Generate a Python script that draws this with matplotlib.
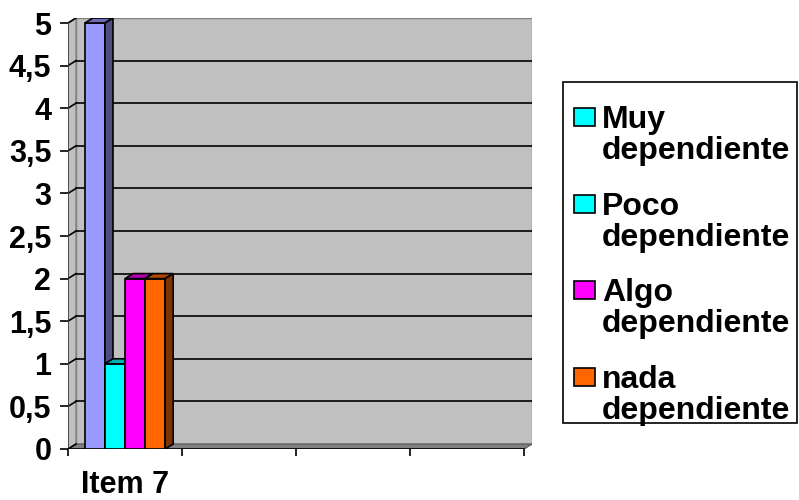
import matplotlib
matplotlib.use("Agg")
import matplotlib.pyplot as plt
from matplotlib.patches import Polygon, Rectangle

plt.rcParams['font.family'] = ['Liberation Sans', 'DejaVu Sans']
plt.rcParams['font.weight'] = 'bold'

# data
categories = ["Item 7", "", "", ""]
series = ["Muy dependiente", "Poco dependiente", "Algo dependiente", "nada dependiente"]
values = [5, 1, 2, 2]
front_colors = ["#9999FF", "#00FFFF", "#FF00FF", "#FF6600"]
top_colors = ["#6B6BB3", "#00B3B3", "#B300B3", "#B34700"]
side_colors = ["#4D4D80", "#008080", "#800080", "#803300"]
legend_colors = ["#00FFFF", "#00FFFF", "#FF00FF", "#FF6600"]
yticks = [0, 0.5, 1, 1.5, 2, 2.5, 3, 3.5, 4, 4.5, 5]
ytick_labels = ["0", "0,5", "1", "1,5", "2", "2,5", "3", "3,5", "4", "4,5", "5"]

W, H = 799, 500
fig = plt.figure(figsize=(W / 100, H / 100), dpi=100)

# axes box in pixels (from top-left): x 68..532, y 18..449
ax = fig.add_axes([68 / W, 1 - 449 / H, (532 - 68) / W, (449 - 18) / H])
ncat = len(categories)
ymax = 5
dx, dy = 0.0705, 0.0587
ax.set_xlim(0, ncat + dx)
ax.set_ylim(0, ymax + dy)
for s in ax.spines.values():
    s.set_visible(False)
ax.patch.set_alpha(0)

# walls and floor
ax.add_patch(Polygon([(dx, dy), (ncat + dx, dy), (ncat + dx, ymax + dy), (dx, ymax + dy)],
                     closed=True, facecolor="#C0C0C0", edgecolor="#808080", lw=1, zorder=0))
ax.add_patch(Polygon([(0, 0), (dx, dy), (dx, ymax + dy), (0, ymax)],
                     closed=True, facecolor="#C0C0C0", edgecolor="#808080", lw=1, zorder=0))
ax.add_patch(Polygon([(0, 0), (ncat, 0), (ncat + dx, dy), (dx, dy)],
                     closed=True, facecolor="#808080", edgecolor="#606060", lw=1, zorder=0.5))

# gridlines on back wall and left wall
for v in yticks[1:-1]:
    ax.plot([dx, ncat + dx], [v + dy, v + dy], color="black", lw=1.2, zorder=0.6)
for v in yticks:
    ax.plot([0, dx], [v, v + dy], color="black", lw=1.2, zorder=0.6)

# axes lines
ax.plot([0, 0], [0, ymax], color="#404040", lw=1.2, zorder=0.7)
ax.plot([0, ncat], [0, 0], color="black", lw=1.2, zorder=0.7)

# bars with 3D faces
w = 0.176
start = 0.5 - 2 * w
for i, v in enumerate(values):
    x0 = start + i * w
    x1 = x0 + w
    ax.bar(x0, v, width=w, align="edge", color=front_colors[i], edgecolor="black", lw=1.2, zorder=2 + i)
    ax.add_patch(Polygon([(x0, v), (x1, v), (x1 + dx, v + dy), (x0 + dx, v + dy)], closed=True,
                         facecolor=top_colors[i], edgecolor="black", lw=1.2, zorder=2 + i))
    ax.add_patch(Polygon([(x1, 0), (x1 + dx, dy), (x1 + dx, v + dy), (x1, v)], closed=True,
                         facecolor=side_colors[i], edgecolor="black", lw=1.2, zorder=2 + i))

ax.set_yticks(yticks)
ax.set_yticklabels(ytick_labels, fontsize=22, fontweight="bold")
ax.set_xticks(range(ncat + 1))
ax.set_xticklabels([""] * (ncat + 1))
ax.tick_params(axis="y", length=6, width=1.2, pad=6, color="black")
ax.tick_params(axis="x", length=5, width=1.2, color="black")
for i, c in enumerate(categories):
    if c:
        ax.text(i + 0.5, -0.52, c, ha="center", va="baseline", fontsize=22, fontweight="bold")

# legend box (manual, two-line labels)
def fx(x):
    return x / W

def fy(y):
    return 1 - y / H

fig.add_artist(Rectangle((fx(563), fy(423)), (797 - 563) / W, (423 - 82) / H,
                         transform=fig.transFigure, facecolor="white", edgecolor="black", lw=1.2))
for i, name in enumerate(series):
    base = 128 + 86.7 * i
    first, second = name.split(" ", 1)
    fig.add_artist(Rectangle((fx(574), fy(base - 2)), 21 / W, 18 / H,
                             transform=fig.transFigure, facecolor=legend_colors[i],
                             edgecolor="black", lw=1.2))
    fig.text(fx(602), fy(base), first, fontsize=23, fontweight="bold", va="baseline", ha="left")
    fig.text(fx(602), fy(base + 31), second, fontsize=23, fontweight="bold", va="baseline", ha="left")

fig.savefig("out.png", dpi=100)
